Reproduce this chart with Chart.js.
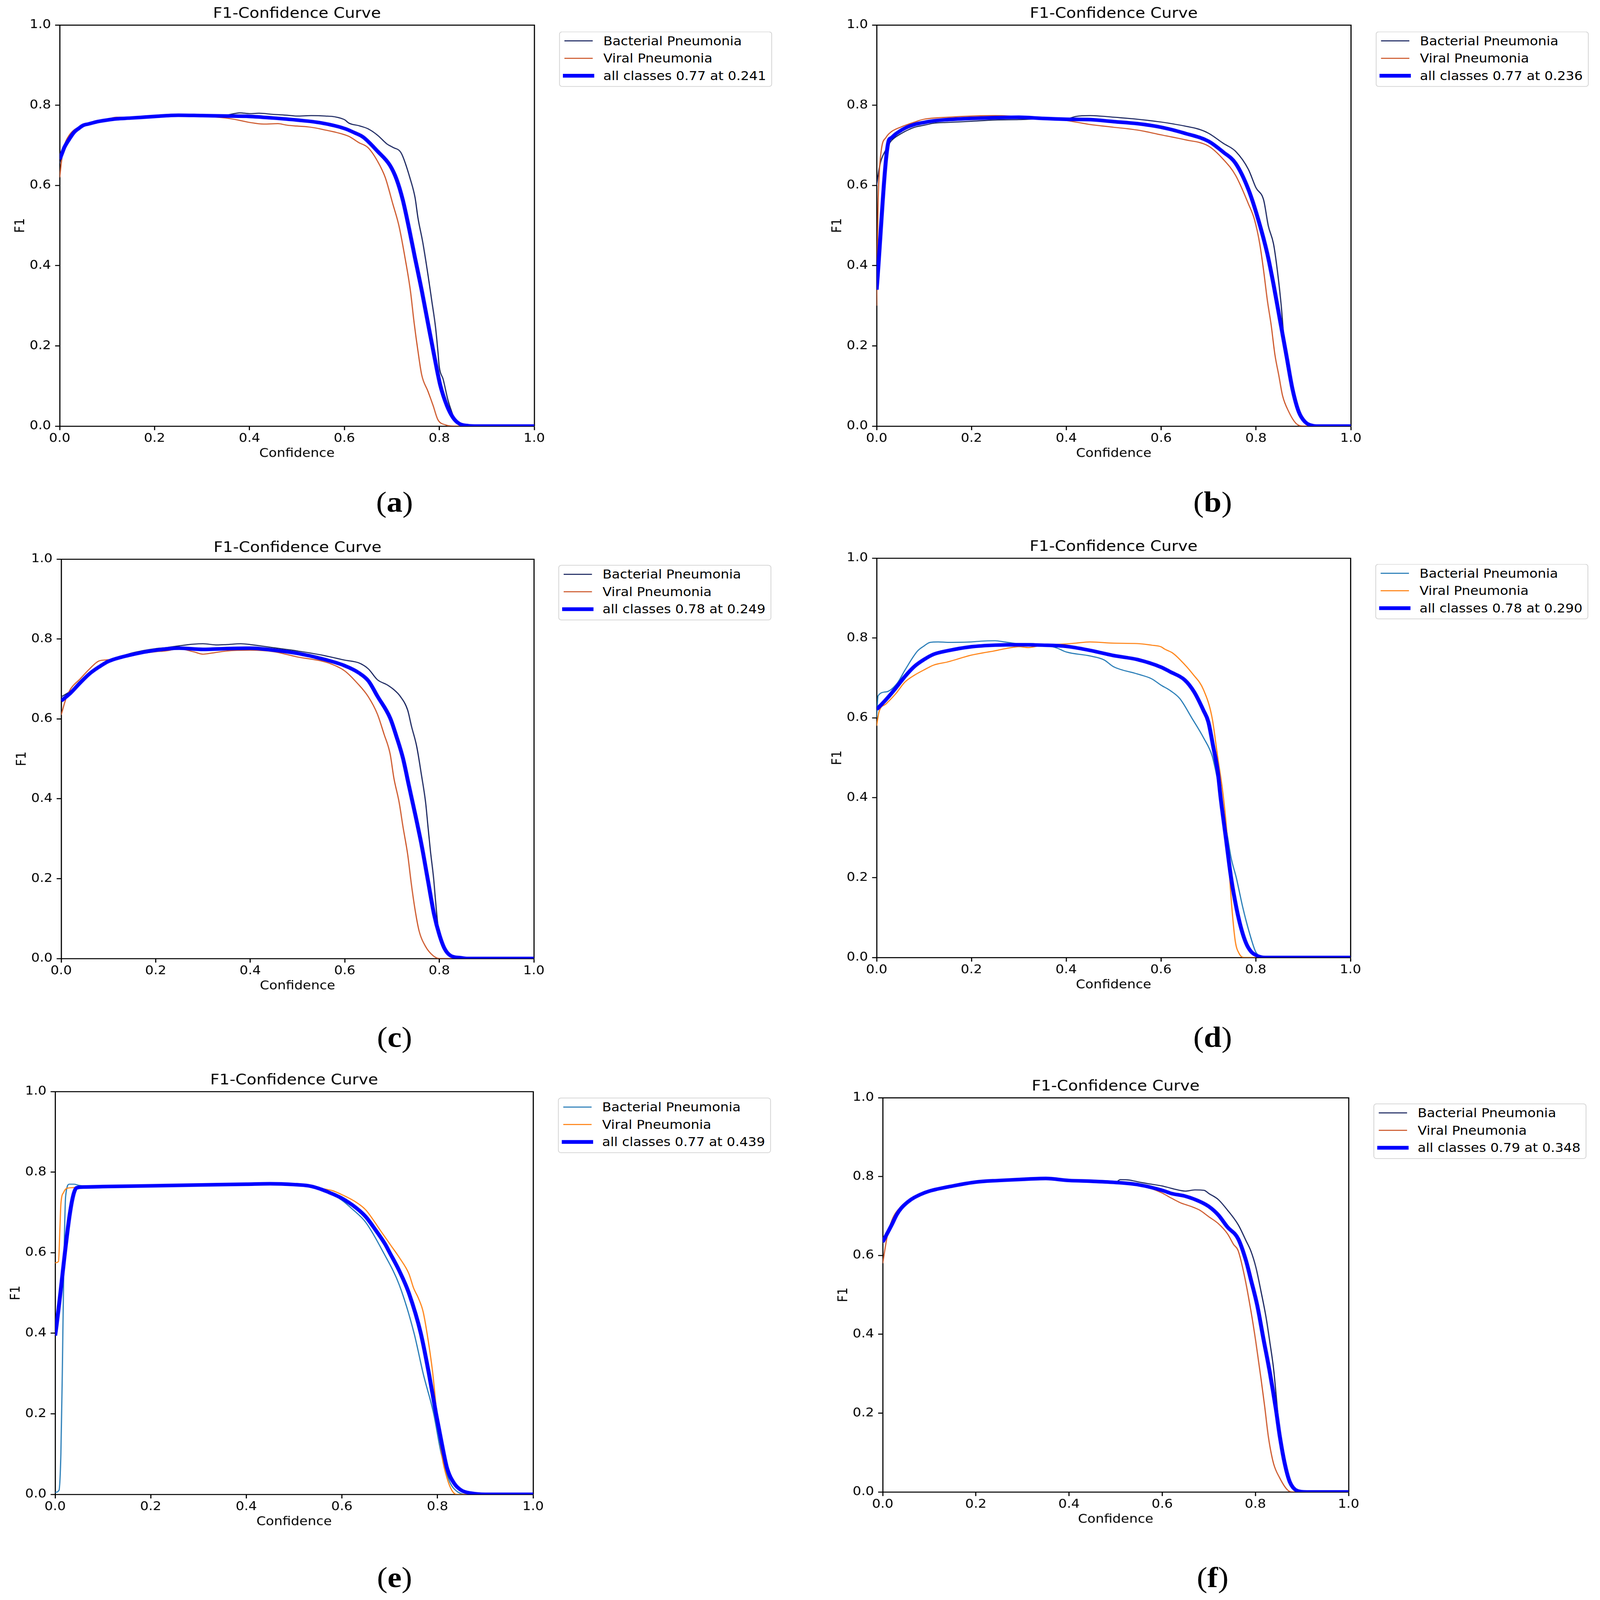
<!DOCTYPE html>
<html><head><meta charset="utf-8">
<script src="https://cdn.jsdelivr.net/npm/chart.js@4.4.1/dist/chart.umd.min.js"></script>
<style>
html,body{margin:0;padding:0;background:#fff;overflow:hidden;}
#page{position:absolute;left:0;top:0;width:4238px;height:4679px;overflow:hidden;background:#fff;font-family:'DejaVu Sans',sans-serif;transform-origin:0 0;}
#page canvas{position:absolute;}
.legend{position:absolute;border:2.5px solid #d2d2d2;border-radius:8px;background:#fff;padding:0 14px 5px 12px;}
.row{display:flex;align-items:center;height:51px;font-size:35.5px;color:#000;white-space:nowrap;font-family:'DejaVu Sans',sans-serif;}
.h{flex:none;display:block;}
.lab{position:absolute;font-family:'Liberation Serif','DejaVu Serif',serif;font-size:84px;transform:translate(-50%,-50%);line-height:1;color:#000;white-space:nowrap;}
</style></head><body><div id="page"></div>
<script>
// ---------- data (confidence, F1) ----------
const tickValues = [0, 0.2, 0.4, 0.6, 0.8, 1.0];
const seriesNames = ['Bacterial Pneumonia', 'Viral Pneumonia'];
const allLabels = ['all classes 0.77 at 0.241','all classes 0.77 at 0.236','all classes 0.78 at 0.249','all classes 0.78 at 0.290','all classes 0.77 at 0.439','all classes 0.79 at 0.348'];
const panelTags = ['a','b','c','d','e','f'];

const aBacterial = [[0,0.655],[0.005,0.672],[0.01,0.69],[0.02,0.712],[0.03,0.73],[0.04,0.74],[0.05,0.748],[0.07,0.755],[0.1,0.762],[0.15,0.767],[0.2,0.771],[0.25,0.774],[0.3,0.773],[0.35,0.775],[0.38,0.781],[0.4,0.779],[0.42,0.78],[0.45,0.777],[0.48,0.775],[0.5,0.773],[0.53,0.774],[0.56,0.773],[0.58,0.771],[0.6,0.764],[0.61,0.755],[0.63,0.749],[0.65,0.741],[0.67,0.725],[0.69,0.703],[0.702,0.695],[0.72,0.68],[0.739,0.615],[0.749,0.569],[0.755,0.519],[0.765,0.459],[0.776,0.378],[0.784,0.313],[0.792,0.247],[0.797,0.187],[0.8,0.147],[0.808,0.117],[0.818,0.066],[0.826,0.036],[0.832,0.019],[0.842,0.006],[0.861,0.001],[0.88,0],[1,0]];
const aViral = [[0,0.62],[0.005,0.67],[0.01,0.7],[0.02,0.725],[0.03,0.738],[0.04,0.745],[0.06,0.755],[0.08,0.762],[0.1,0.765],[0.12,0.77],[0.15,0.77],[0.2,0.772],[0.25,0.774],[0.3,0.772],[0.35,0.768],[0.38,0.762],[0.4,0.757],[0.43,0.753],[0.46,0.754],[0.48,0.75],[0.5,0.748],[0.53,0.745],[0.56,0.738],[0.59,0.73],[0.61,0.722],[0.63,0.707],[0.65,0.694],[0.67,0.66],[0.686,0.62],[0.702,0.554],[0.715,0.499],[0.728,0.418],[0.739,0.338],[0.747,0.257],[0.755,0.187],[0.763,0.127],[0.776,0.087],[0.787,0.051],[0.797,0.016],[0.813,0.003],[0.83,0],[1,0]];
const aAll = [[0,0.665],[0.005,0.68],[0.01,0.695],[0.02,0.715],[0.03,0.732],[0.04,0.742],[0.05,0.75],[0.06,0.753],[0.08,0.759],[0.1,0.763],[0.12,0.766],[0.15,0.768],[0.2,0.772],[0.25,0.775],[0.3,0.774],[0.35,0.773],[0.4,0.772],[0.45,0.768],[0.5,0.763],[0.55,0.756],[0.6,0.742],[0.62,0.732],[0.64,0.72],[0.67,0.685],[0.696,0.65],[0.71,0.615],[0.723,0.564],[0.736,0.494],[0.749,0.418],[0.763,0.338],[0.776,0.257],[0.789,0.177],[0.802,0.102],[0.816,0.051],[0.829,0.021],[0.842,0.006],[0.861,0.001],[0.88,0],[1,0]];

const bBacterial = [[0,0.6],[0.005,0.64],[0.01,0.665],[0.02,0.69],[0.03,0.71],[0.05,0.728],[0.08,0.745],[0.1,0.75],[0.12,0.755],[0.15,0.757],[0.2,0.76],[0.25,0.763],[0.3,0.764],[0.35,0.766],[0.4,0.766],[0.42,0.772],[0.45,0.774],[0.5,0.77],[0.55,0.765],[0.6,0.758],[0.65,0.748],[0.68,0.74],[0.7,0.73],[0.731,0.705],[0.757,0.685],[0.784,0.64],[0.8,0.594],[0.816,0.564],[0.826,0.499],[0.837,0.454],[0.845,0.388],[0.853,0.303],[0.862,0.177],[0.877,0.092],[0.89,0.036],[0.903,0.011],[0.92,0.001],[0.93,0],[1,0]];
const bViral = [[0,0.3],[0.003,0.55],[0.005,0.62],[0.01,0.69],[0.02,0.72],[0.03,0.733],[0.05,0.745],[0.08,0.758],[0.1,0.765],[0.15,0.77],[0.2,0.773],[0.25,0.774],[0.3,0.772],[0.35,0.77],[0.4,0.762],[0.45,0.752],[0.5,0.745],[0.55,0.738],[0.6,0.726],[0.65,0.714],[0.7,0.698],[0.731,0.665],[0.757,0.625],[0.784,0.554],[0.797,0.514],[0.808,0.454],[0.816,0.388],[0.824,0.313],[0.832,0.252],[0.84,0.177],[0.848,0.127],[0.856,0.076],[0.869,0.036],[0.885,0.006],[0.9,0],[1,0]];
const bAll = [[0,0.34],[0.025,0.71],[0.03,0.718],[0.04,0.728],[0.06,0.743],[0.08,0.752],[0.1,0.757],[0.12,0.761],[0.15,0.764],[0.2,0.767],[0.25,0.769],[0.3,0.77],[0.35,0.767],[0.4,0.765],[0.45,0.764],[0.5,0.759],[0.55,0.754],[0.6,0.745],[0.65,0.73],[0.7,0.71],[0.731,0.683],[0.757,0.655],[0.784,0.59],[0.805,0.514],[0.824,0.429],[0.837,0.353],[0.85,0.268],[0.864,0.177],[0.877,0.092],[0.89,0.036],[0.903,0.011],[0.92,0.001],[0.93,0],[1,0]];

const cBacterial = [[0,0.655],[0.02,0.67],[0.04,0.695],[0.06,0.715],[0.08,0.733],[0.1,0.745],[0.15,0.765],[0.2,0.776],[0.22,0.778],[0.25,0.783],[0.28,0.787],[0.3,0.788],[0.33,0.785],[0.35,0.786],[0.38,0.788],[0.4,0.786],[0.45,0.778],[0.5,0.77],[0.55,0.76],[0.6,0.747],[0.63,0.74],[0.65,0.725],[0.669,0.698],[0.69,0.685],[0.704,0.673],[0.717,0.657],[0.733,0.622],[0.741,0.582],[0.752,0.532],[0.762,0.461],[0.771,0.391],[0.776,0.331],[0.781,0.271],[0.788,0.2],[0.792,0.145],[0.796,0.095],[0.8,0.06],[0.811,0.025],[0.824,0.007],[0.845,0.001],[0.86,0],[1,0]];
const cViral = [[0,0.61],[0.01,0.65],[0.02,0.675],[0.04,0.7],[0.06,0.725],[0.08,0.745],[0.1,0.748],[0.15,0.76],[0.2,0.768],[0.22,0.77],[0.25,0.775],[0.28,0.768],[0.3,0.762],[0.32,0.765],[0.35,0.77],[0.4,0.772],[0.45,0.768],[0.5,0.755],[0.55,0.745],[0.57,0.738],[0.6,0.72],[0.626,0.69],[0.65,0.655],[0.669,0.612],[0.683,0.562],[0.696,0.512],[0.704,0.451],[0.715,0.391],[0.723,0.331],[0.733,0.261],[0.741,0.185],[0.749,0.12],[0.757,0.07],[0.771,0.03],[0.787,0.007],[0.8,0],[1,0]];
const cAll = [[0,0.645],[0.02,0.665],[0.04,0.69],[0.06,0.713],[0.08,0.73],[0.1,0.744],[0.15,0.761],[0.2,0.772],[0.25,0.777],[0.3,0.774],[0.35,0.776],[0.4,0.777],[0.45,0.772],[0.5,0.764],[0.55,0.751],[0.6,0.733],[0.63,0.715],[0.65,0.695],[0.669,0.657],[0.696,0.602],[0.709,0.557],[0.723,0.502],[0.736,0.431],[0.749,0.361],[0.763,0.281],[0.776,0.195],[0.789,0.11],[0.8,0.06],[0.811,0.025],[0.824,0.007],[0.845,0.002],[0.86,0],[1,0]];

const dBacterial = [[0,0.6],[0.003,0.655],[0.02,0.665],[0.043,0.686],[0.06,0.72],[0.086,0.767],[0.1,0.78],[0.113,0.789],[0.13,0.79],[0.15,0.789],[0.2,0.79],[0.22,0.792],[0.25,0.793],[0.27,0.79],[0.3,0.786],[0.33,0.786],[0.35,0.782],[0.38,0.775],[0.4,0.765],[0.45,0.755],[0.48,0.745],[0.5,0.728],[0.55,0.71],[0.58,0.698],[0.6,0.682],[0.62,0.668],[0.64,0.648],[0.665,0.6],[0.69,0.55],[0.708,0.505],[0.716,0.465],[0.727,0.4],[0.737,0.33],[0.748,0.25],[0.759,0.2],[0.773,0.124],[0.786,0.065],[0.8,0.014],[0.81,0.003],[0.82,0],[1,0]];
const dViral = [[0,0.58],[0.005,0.615],[0.02,0.635],[0.04,0.66],[0.06,0.69],[0.08,0.707],[0.1,0.72],[0.12,0.732],[0.15,0.74],[0.2,0.757],[0.25,0.768],[0.28,0.775],[0.3,0.778],[0.32,0.776],[0.35,0.782],[0.4,0.785],[0.42,0.787],[0.45,0.79],[0.5,0.787],[0.55,0.786],[0.58,0.782],[0.6,0.778],[0.608,0.772],[0.625,0.762],[0.64,0.746],[0.667,0.71],[0.69,0.67],[0.708,0.6],[0.72,0.5],[0.732,0.4],[0.74,0.3],[0.745,0.2],[0.75,0.12],[0.757,0.04],[0.765,0.01],[0.775,0],[1,0]];
const dAll = [[0,0.621],[0.02,0.646],[0.04,0.674],[0.06,0.704],[0.08,0.729],[0.1,0.746],[0.12,0.759],[0.15,0.768],[0.2,0.778],[0.25,0.782],[0.3,0.783],[0.35,0.782],[0.4,0.779],[0.45,0.769],[0.5,0.756],[0.55,0.746],[0.6,0.727],[0.62,0.715],[0.65,0.695],[0.67,0.665],[0.69,0.618],[0.7,0.59],[0.71,0.53],[0.72,0.465],[0.726,0.4],[0.737,0.3],[0.748,0.2],[0.76,0.12],[0.77,0.07],[0.78,0.035],[0.79,0.015],[0.8,0.006],[0.82,0],[1,0]];

const eBacterial = [[0,0.005],[0.008,0.01],[0.012,0.1],[0.015,0.3],[0.018,0.55],[0.022,0.74],[0.03,0.77],[0.04,0.77],[0.05,0.767],[0.1,0.764],[0.2,0.766],[0.3,0.768],[0.4,0.77],[0.45,0.771],[0.5,0.769],[0.53,0.766],[0.55,0.759],[0.57,0.75],[0.6,0.73],[0.62,0.71],[0.65,0.675],[0.687,0.6],[0.72,0.52],[0.751,0.4],[0.77,0.3],[0.792,0.2],[0.808,0.1],[0.826,0.03],[0.84,0.008],[0.86,0],[1,0]];
const eViral = [[0,0.575],[0.007,0.578],[0.01,0.66],[0.012,0.72],[0.018,0.75],[0.025,0.76],[0.05,0.762],[0.1,0.764],[0.2,0.766],[0.3,0.768],[0.4,0.77],[0.45,0.771],[0.5,0.769],[0.53,0.766],[0.55,0.761],[0.58,0.754],[0.6,0.744],[0.63,0.725],[0.65,0.706],[0.68,0.656],[0.7,0.622],[0.72,0.588],[0.74,0.548],[0.75,0.512],[0.76,0.487],[0.77,0.453],[0.78,0.386],[0.79,0.301],[0.8,0.183],[0.81,0.09],[0.82,0.04],[0.83,0.01],[0.84,0],[1,0]];
const eAll = [[0,0.394],[0.045,0.761],[0.06,0.763],[0.1,0.764],[0.2,0.766],[0.3,0.768],[0.4,0.77],[0.45,0.771],[0.5,0.769],[0.53,0.766],[0.55,0.76],[0.57,0.751],[0.6,0.735],[0.63,0.711],[0.65,0.689],[0.67,0.657],[0.69,0.622],[0.7,0.6],[0.72,0.555],[0.74,0.5],[0.765,0.4],[0.782,0.3],[0.797,0.2],[0.81,0.12],[0.82,0.065],[0.835,0.027],[0.85,0.01],[0.87,0.003],[0.9,0],[1,0]];

const fBacterial = [[0,0.63],[0.02,0.679],[0.04,0.72],[0.06,0.741],[0.08,0.755],[0.1,0.764],[0.15,0.776],[0.2,0.786],[0.25,0.79],[0.3,0.793],[0.35,0.795],[0.4,0.79],[0.45,0.788],[0.5,0.786],[0.51,0.792],[0.53,0.791],[0.55,0.786],[0.58,0.78],[0.6,0.776],[0.62,0.77],[0.65,0.763],[0.67,0.766],[0.69,0.765],[0.7,0.757],[0.72,0.742],[0.74,0.715],[0.763,0.678],[0.78,0.637],[0.79,0.612],[0.801,0.57],[0.812,0.509],[0.823,0.442],[0.831,0.38],[0.839,0.313],[0.844,0.252],[0.85,0.175],[0.853,0.14],[0.863,0.072],[0.874,0.025],[0.89,0.003],[0.9,0],[1,0]];
const fViral = [[0,0.58],[0.01,0.65],[0.02,0.69],[0.04,0.725],[0.06,0.742],[0.08,0.753],[0.1,0.762],[0.15,0.776],[0.2,0.786],[0.25,0.79],[0.3,0.793],[0.35,0.795],[0.4,0.79],[0.45,0.787],[0.5,0.784],[0.55,0.778],[0.58,0.768],[0.6,0.758],[0.62,0.745],[0.64,0.733],[0.66,0.725],[0.68,0.715],[0.7,0.698],[0.72,0.681],[0.74,0.655],[0.753,0.628],[0.763,0.612],[0.777,0.545],[0.79,0.462],[0.801,0.38],[0.812,0.288],[0.82,0.216],[0.828,0.139],[0.839,0.072],[0.852,0.036],[0.869,0.005],[0.88,0],[1,0]];
const fAll = [[0,0.634],[0.02,0.679],[0.03,0.703],[0.04,0.72],[0.06,0.741],[0.08,0.754],[0.1,0.763],[0.15,0.776],[0.2,0.786],[0.25,0.79],[0.3,0.793],[0.35,0.795],[0.4,0.79],[0.45,0.788],[0.5,0.785],[0.55,0.779],[0.6,0.765],[0.62,0.757],[0.65,0.75],[0.68,0.737],[0.7,0.724],[0.72,0.703],[0.74,0.672],[0.763,0.642],[0.78,0.586],[0.79,0.54],[0.804,0.473],[0.817,0.39],[0.831,0.303],[0.844,0.21],[0.852,0.144],[0.863,0.072],[0.874,0.025],[0.89,0.003],[0.91,0],[1,0]];

// ---------- styling / layout ----------
const DARK = ['#15215c', '#cc5426'];
const TAB = ['#1f77b4', '#ff7f0e'];
const ALLCOLOR = '#0000ff';

const panels = [
  {b:aBacterial, v:aViral, all:aAll, col:DARK, L:158, R:1415, T:73,   B:1246, leg:[1481,92],   tag:[1045,1469]},
  {b:bBacterial, v:bViral, all:bAll, col:DARK, L:2322,R:3578, T:73,   B:1246, leg:[3644,92],   tag:[3212,1469]},
  {b:cBacterial, v:cViral, all:cAll, col:DARK, L:162, R:1414, T:1635, B:2803, leg:[1479,1652], tag:[1045,3034]},
  {b:dBacterial, v:dViral, all:dAll, col:TAB,  L:2322,R:3577, T:1632, B:2800, leg:[3643,1649], tag:[3212,3034]},
  {b:eBacterial, v:eViral, all:eAll, col:TAB,  L:146, R:1412, T:3192, B:4370, leg:[1478,3210], tag:[1045,4613]},
  {b:fBacterial, v:fViral, all:fAll, col:DARK, L:2338,R:3572, T:3210, B:4363, leg:[3638,3227], tag:[3212,4613]}
];

Chart.defaults.font.family = "'DejaVu Sans', sans-serif";
Chart.defaults.color = '#000';

const page = document.getElementById('page');
// fit the 4238x4679 figure to whatever viewport the page is opened in
const sx = (window.innerWidth || 4238) / 4238, sy = (window.innerHeight || 4679) / 4679;
page.style.transform = 'scale(' + sx + ',' + sy + ')';

const toXY = arr => arr.map(p => ({x:p[0], y:p[1]}));

const TITLE_SIZE = 42.5, TITLE_LH = 1.2, TITLE_PT = 12, TITLE_PB = 7;
const AXW = 150, XH = 110, FS = 35.5;

function axisCommon(pos) {
  return {
    type:'linear', position:pos, min:0, max:1,
    afterBuildTicks: s => { s.ticks = tickValues.map(v => ({value:v})); },
    ticks:{color:'#000', font:{size:FS}, maxRotation:0, autoSkip:false, callback:v => Number(v).toFixed(1)},
    grid:{display:true, drawOnChartArea:false, drawTicks:true, tickLength:12, tickWidth:3, tickColor:'#000'},
    border:{display:true, color:'#000', width:3}
  };
}

panels.forEach((p, i) => {
  const titleH = TITLE_SIZE*TITLE_LH + TITLE_PT + TITLE_PB;
  const cl = p.L - AXW, ct = p.T - titleH;
  const cw = Math.round((p.R - p.L) + 2*AXW), ch = Math.round((p.B - p.T) + titleH + XH);
  const cv = document.createElement('canvas');
  cv.width = cw; cv.height = ch;
  cv.style.left = cl + 'px'; cv.style.top = ct + 'px';
  cv.style.width = cw + 'px'; cv.style.height = ch + 'px';
  page.appendChild(cv);

  const xAxis = axisCommon('bottom');
  xAxis.ticks.padding = 3;
  xAxis.title = {display:true, text:'Confidence', color:'#000', font:{size:FS}, padding:{top:0, bottom:8}};
  xAxis.afterFit = s => { s.height = XH; };
  const yAxis = axisCommon('left');
  yAxis.ticks.padding = 11;
  yAxis.title = {display:true, text:'F1', color:'#000', font:{size:FS}, padding:{top:25, bottom:0}};
  yAxis.afterFit = s => { s.width = AXW; };

  new Chart(cv, {
    type:'line',
    data:{datasets:[
      {label:allLabels[i], data:toXY(p.all), borderColor:ALLCOLOR, borderWidth:10.5, clip:0},
      {label:seriesNames[1], data:toXY(p.v), borderColor:p.col[1], borderWidth:3, clip:0},
      {label:seriesNames[0], data:toXY(p.b), borderColor:p.col[0], borderWidth:3, clip:0}
    ]},
    options:{
      responsive:false, animation:false, devicePixelRatio:1,
      layout:{padding:0},
      elements:{point:{radius:0, hoverRadius:0}, line:{cubicInterpolationMode:'monotone', fill:false, borderJoinStyle:'round', borderCapStyle:'butt'}},
      plugins:{
        legend:{display:false}, tooltip:{enabled:false},
        title:{display:true, text:'F1-Confidence Curve', color:'#000',
               font:{size:TITLE_SIZE, weight:'normal', lineHeight:TITLE_LH},
               padding:{top:TITLE_PT, bottom:TITLE_PB}}
      },
      scales:{
        x:xAxis,
        y:yAxis,
        x2:{type:'linear', position:'top', min:0, max:1, display:true,
            ticks:{display:false}, grid:{display:false}, border:{display:true, color:'#000', width:3},
            afterFit: s => { s.height = 0; }},
        y2:{type:'linear', position:'right', min:0, max:1, display:true,
            ticks:{display:false}, grid:{display:false}, border:{display:true, color:'#000', width:3},
            afterFit: s => { s.width = AXW; }}
      }
    }
  });

  // legend (matplotlib-like box, real text)
  const lg = document.createElement('div');
  lg.className = 'legend';
  lg.style.left = p.leg[0] + 'px'; lg.style.top = p.leg[1] + 'px';
  const rows = [
    {c:p.col[0], w:75, h:3, ml:0, mr:28, t:seriesNames[0]},
    {c:p.col[1], w:75, h:3, ml:0, mr:28, t:seriesNames[1]},
    {c:ALLCOLOR, w:83, h:10.5, ml:-4, mr:24, t:allLabels[i]}
  ];
  rows.forEach(r => {
    const row = document.createElement('div'); row.className = 'row';
    const h = document.createElement('span'); h.className = 'h';
    h.style.width = r.w + 'px'; h.style.height = r.h + 'px'; h.style.background = r.c;
    h.style.marginLeft = r.ml + 'px'; h.style.marginRight = r.mr + 'px';
    row.appendChild(h);
    row.appendChild(document.createTextNode(r.t));
    lg.appendChild(row);
  });
  page.appendChild(lg);

  const tg = document.createElement('div');
  tg.className = 'lab';
  tg.style.left = p.tag[0] + 'px'; tg.style.top = p.tag[1] + 'px';
  tg.innerHTML = '(<b>' + panelTags[i] + '</b>)';
  page.appendChild(tg);
});
</script>
</body></html>
